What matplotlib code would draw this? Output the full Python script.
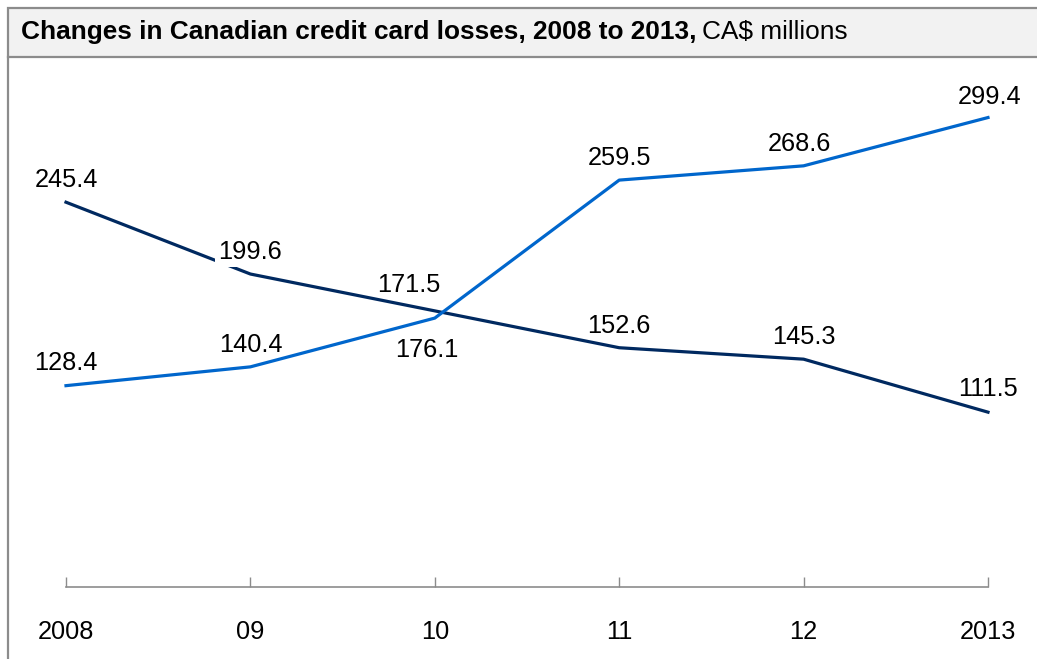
import matplotlib
matplotlib.use("Agg")
import matplotlib.pyplot as plt
from matplotlib.patches import Rectangle
from matplotlib.lines import Line2D

plt.rcParams['font.family'] = ['Liberation Sans', 'DejaVu Sans']

years = ["2008", "09", "10", "11", "12", "2013"]
series_dark = [245.4, 199.6, 176.1, 152.6, 145.3, 111.5]
series_blue = [128.4, 140.4, 171.5, 259.5, 268.6, 299.4]
dark_color = "#002960"
blue_color = "#0066cc"

W, H = 1037, 659
fig = plt.figure(figsize=(W / 100, H / 100), dpi=100)

def fx(px):
    return px / W

def fy(py):
    return 1 - py / H

# frame: title bar and left border
fig.patches.append(Rectangle((fx(8), fy(57)), fx(1040) - fx(8), fy(8) - fy(57),
                             transform=fig.transFigure, facecolor="#f2f2f2",
                             edgecolor="#8c8c8c", linewidth=1.6, zorder=0))
fig.lines.append(Line2D([fx(8), fx(8)], [fy(57), fy(665)], transform=fig.transFigure,
                        color="#8c8c8c", linewidth=1.6))

t1 = fig.text(fx(21), fy(32), "Changes in Canadian credit card losses, 2008 to 2013,",
              fontsize=18.9, fontweight="bold", va="center", ha="left", color="black")
fig.canvas.draw()
bb = t1.get_window_extent()
fig.text((bb.x1 + 6) / W, fy(32), "CA$ millions", fontsize=18.9, va="center",
         ha="left", color="black")

ax_left, ax_right = 66, 988
ax_bottom = 587
ymax = 330
scale = 1.568
ax_top = ax_bottom - ymax * scale
ax = fig.add_axes([fx(ax_left), fy(ax_bottom), fx(ax_right) - fx(ax_left),
                   fy(ax_top) - fy(ax_bottom)])
x = list(range(len(years)))
ax.plot(x, series_dark, color=dark_color, linewidth=2.3, zorder=2, clip_on=False)
ax.plot(x, series_blue, color=blue_color, linewidth=2.3, zorder=2, clip_on=False)
ax.set_xlim(0, 5)
ax.set_ylim(0, ymax)
ax.set_facecolor("none")
for s in ["top", "right", "left"]:
    ax.spines[s].set_visible(False)
ax.spines["bottom"].set_color("#8c8c8c")
ax.spines["bottom"].set_linewidth(1.2)
ax.set_yticks([])
ax.set_xticks(x)
ax.set_xticklabels(years)
ax.tick_params(axis="x", direction="in", length=7, width=1.0, color="#8c8c8c",
               labelsize=18.3, pad=24)

offsets_dark = [(0, 16), (0, 16), (-6, -28), (0, 16), (0, 16), (0, 17)]
offsets_blue = [(0, 16), (0, 16), (-19, 24), (0, 16), (-3, 16), (1, 15)]
boxed_dark = [False, True, False, False, False, False]
boxed_blue = [False, False, False, False, False, False]
for vals, offs, boxed in ((series_dark, offsets_dark, boxed_dark),
                          (series_blue, offsets_blue, boxed_blue)):
    for xi, v, off, b in zip(x, vals, offs, boxed):
        kw = {}
        if b:
            kw["bbox"] = dict(boxstyle="square,pad=0.12", facecolor="white", edgecolor="none")
        ax.annotate(f"{v:.1f}", (xi, v), xytext=off, textcoords="offset points",
                    ha="center", va="center", fontsize=18.3, zorder=5,
                    annotation_clip=False, **kw)

fig.savefig("out.png", dpi=100)
